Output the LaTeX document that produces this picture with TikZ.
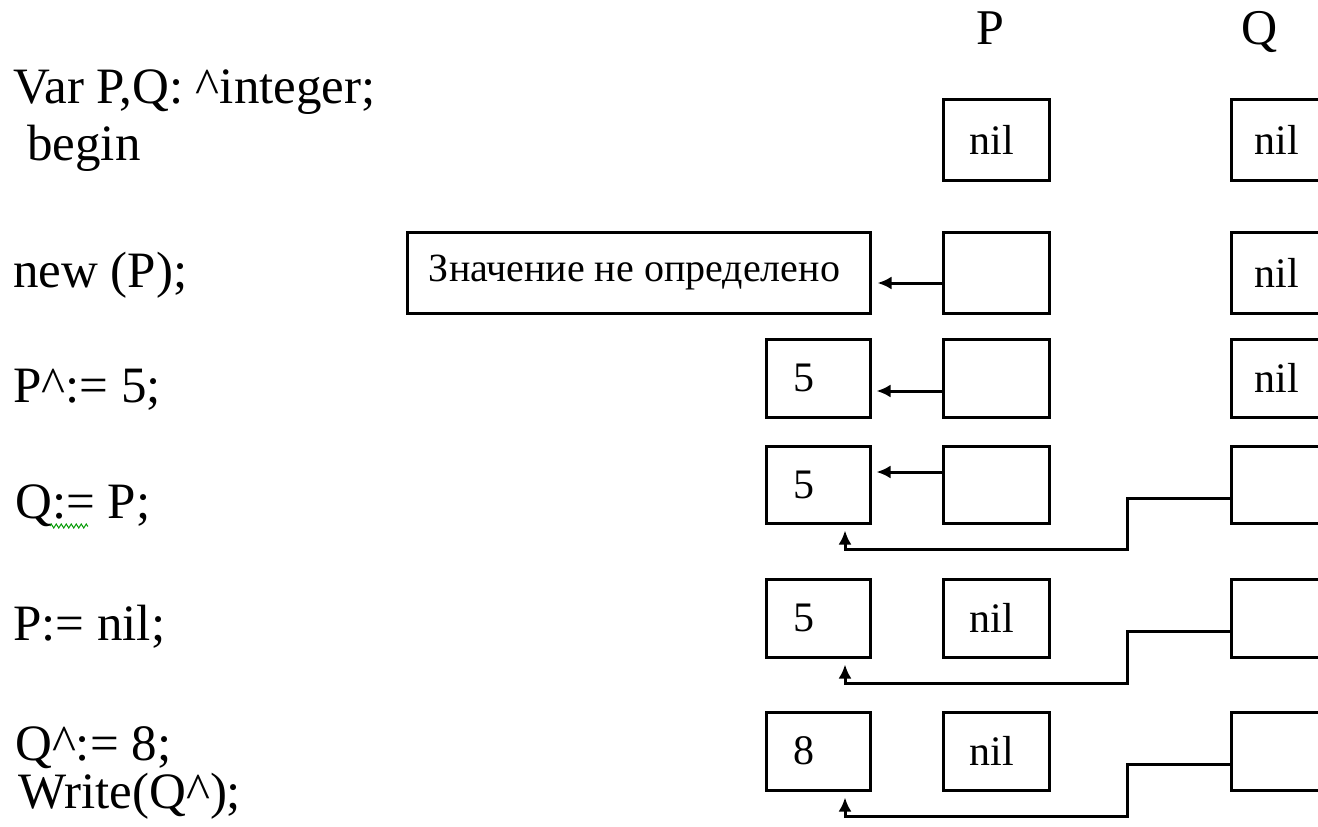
\documentclass[tikz,border=0pt]{standalone}
\usepackage{fontspec}
\setmainfont{Liberation Serif}
\usetikzlibrary{arrows.meta,decorations.pathmorphing}
\begin{document}
\begin{tikzpicture}[x=1pt,y=-1pt,
  code/.style={anchor=base west,inner sep=0pt,font=\fontsize{51}{56}\selectfont},
  head/.style={anchor=base,inner sep=0pt,font=\fontsize{50}{55}\selectfont},
  cell/.style={draw,line width=3pt,minimum width=106pt,minimum height=79pt,
               inner sep=0pt,font=\fontsize{42}{46}\selectfont},
  val/.style={cell,minimum width=104pt},
  ptr/.style={line width=3pt,-{Latex[length=14pt,width=13pt]}}]
\path[use as bounding box] (0,0) rectangle (1318,827);
\clip (0,0) rectangle (1318,827);
\fill[white] (0,0) rectangle (1318,827);

% program text
\node[code] (c1) at (13,103) {Var P,Q: \textasciicircum integer;};
\node[code] (c2) at (27,160) {begin};
\node[code] (c3) at (13,287) {new (P);};
\node[code] (c4) at (13,402) {P\textasciicircum:= 5;};
\node[code] (c5) at (15,518) {Q:= P;};
\node[code] (c6) at (13,640) {P:= nil;};
\node[code] (c7) at (15,760) {Q\textasciicircum:= 8;};
\node[code] (c8) at (18,808) {Write(Q\textasciicircum);};
\draw[green!60!black,line width=1pt,decorate,
      decoration={zigzag,amplitude=2pt,segment length=5pt}] (50,526) -- (88,526);

% column headings
\node[head] (hp) at (990,45) {P};
\node[head] (hq) at (1260,45) {Q};

% pointer P
\node[cell,minimum height=81pt] (P1) at (996,139.5) {nil\kern8pt};
\node[cell,minimum height=81pt] (P2) at (996,272.5) {};
\node[cell,minimum height=78pt] (P3) at (996,378) {};
\node[cell,minimum height=77pt] (P4) at (996,484.5) {};
\node[cell,minimum height=78pt] (P5) at (996,618) {nil\kern8pt};
\node[cell,minimum height=78pt] (P6) at (996,751) {nil\kern8pt};

% pointer Q
\node[cell,minimum height=81pt] (Q1) at (1284,139.5) {nil\kern14pt};
\node[cell,minimum height=81pt] (Q2) at (1284,272.5) {nil\kern14pt};
\node[cell,minimum height=78pt] (Q3) at (1284,378) {nil\kern14pt};
\node[cell,minimum height=77pt] (Q4) at (1284,484.5) {};
\node[cell,minimum height=78pt] (Q5) at (1284,618) {};
\node[cell,minimum height=78pt] (Q6) at (1284,751) {};

% dynamic variable
\node[cell,minimum width=463pt,minimum height=81pt,font=\fontsize{40}{44}\selectfont]
  (V2) at (638.5,272.5) {Значение не определено\kern8pt};
\node[val,minimum height=78pt] (V3) at (818,378) {5\kern28pt};
\node[val,minimum height=77pt] (V4) at (818,484.5) {5\kern28pt};
\node[val,minimum height=78pt] (V5) at (818,618) {5\kern28pt};
\node[val,minimum height=78pt] (V6) at (818,751) {8\kern28pt};

% P points to the dynamic variable
\draw[ptr,shorten >=6pt] (P2.west |- 0,283) -- (V2.east |- 0,283);
\draw[ptr,shorten >=5pt] (P3.west |- 0,391) -- (V3.east |- 0,391);
\draw[ptr,shorten >=5pt] (P4.west |- 0,472) -- (V4.east |- 0,472);

% Q points to the dynamic variable
\coordinate (e4) at (1127,549);
\coordinate (e5) at (1127,683);
\coordinate (e6) at (1127,816);
\draw[ptr,shorten >=6pt] (Q4.west |- 0,498) -| (e4) -| ([xshift=27pt]V4.south);
\draw[ptr,shorten >=6pt] (Q5.west |- 0,631) -| (e5) -| ([xshift=27pt]V5.south);
\draw[ptr,shorten >=6pt] (Q6.west |- 0,764) -| (e6) -| ([xshift=27pt]V6.south);
\end{tikzpicture}
\end{document}
